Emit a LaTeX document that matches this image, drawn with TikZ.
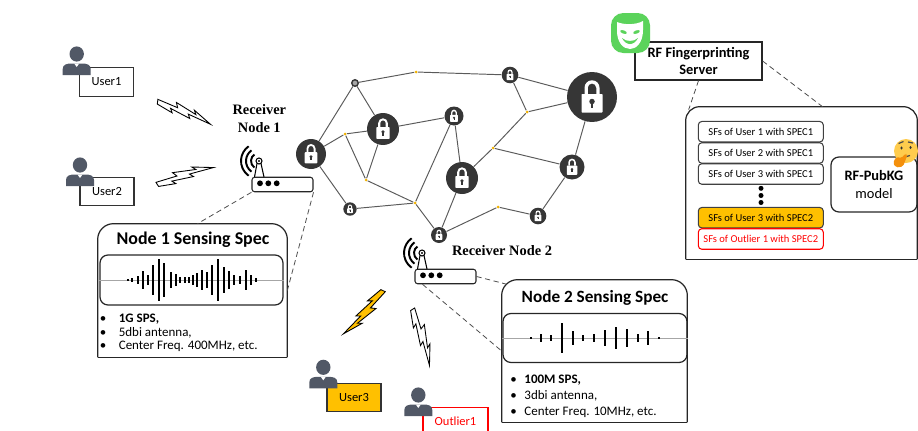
\documentclass[tikz,border=0pt]{standalone}
\usepackage{fontspec}
\setmainfont{Carlito}
\newfontfamily\serifbold{Liberation Serif}
\usetikzlibrary{calc}

\definecolor{lockgray}{HTML}{363636}
\definecolor{linkgray}{HTML}{5A5A5A}
\definecolor{hubgold}{HTML}{F2B200}
\definecolor{personcol}{HTML}{515866}
\definecolor{amber}{HTML}{FFC000}
\definecolor{maskgreen}{HTML}{5BD35B}
\definecolor{faceyellow}{HTML}{FFCC4D}
\definecolor{handorange}{HTML}{F4900C}

% padlock node: name, position, radius (px)
\newcommand\lockat[3]{%
  \node[lock, minimum size=#3*0.04cm] (#1) at (#2) {};
  \begin{scope}[shift={(#1.center)}, scale=#3/10]
    \fill[white, rounded corners=0.4pt] (-4.2,-1.2) rectangle (4.2,6.2);
    \fill[white] (-3,-1.2) -- (-3,-3.7) arc[start angle=180, end angle=360, radius=3]
      -- (3,-1.2) -- (1.7,-1.2) -- (1.7,-3.7) arc[start angle=0, end angle=-180, radius=1.7]
      -- (-1.7,-1.2) -- cycle;
    \fill[lockgray] (0,1.8) circle[radius=1.1];
    \fill[lockgray] (-0.45,1.8) rectangle (0.45,4.2);
  \end{scope}
}

\tikzset{
  lock/.style={circle, fill=lockgray, inner sep=0pt},
  hub/.style={circle, fill=hubgold, inner sep=0pt, minimum size=0.06cm},
  ring/.style={circle, fill=gray!70, draw=lockgray, line width=0.8pt, inner sep=0pt, minimum size=0.13cm},
  link/.style={draw=linkgray, line width=0.55pt},
  userbox/.style={draw=black!80, fill=white, line width=0.6pt, minimum width=1.08cm,
    minimum height=0.57cm, inner sep=0pt, font=\fontsize{7.1}{8}\selectfont},
  router/.style={draw=black!85, fill=white, rounded corners=1.5pt, line width=0.6pt,
    minimum width=1.22cm, minimum height=0.29cm, inner sep=0pt},
  rxlabel/.style={font=\serifbold\bfseries\fontsize{8.2}{10.2}\selectfont, align=center, inner sep=0pt},
  specbox/.style={inner sep=0pt},
  wavebox/.style={draw=black!85, rounded corners=4.5pt, line width=0.7pt, inner sep=0pt},
  spectitle/.style={font=\bfseries\fontsize{9.8}{11}\selectfont, inner sep=0pt},
  specitem/.style={anchor=west, inner sep=0pt, font=\fontsize{7.4}{9}\selectfont},
  sfbox/.style={draw=black!75, fill=white, rounded corners=2pt, line width=0.6pt, minimum width=2.5cm,
    minimum height=0.41cm, inner sep=0pt, font=\fontsize{6}{7}\selectfont},
  spline/.style={densely dashed, draw=black!70, line width=0.45pt},
  bar/.style={line width=0.95pt},
  frame/.style={line width=0.7pt, draw=black!85},
  pics/person/.style={code={
    \fill[personcol] (0,0) ellipse[x radius=7.2, y radius=7.6];
    \fill[personcol] (-14,21) -- (-14,15) .. controls (-14,10.5) and (-10,9.5) .. (-5,9.5)
      -- (5,9.5) .. controls (10,9.5) and (14,10.5) .. (14,15) -- (14,21) -- cycle;
    \fill[white] (-2.5,9.5) -- (0,13) -- (2.5,9.5) -- cycle;
  }},
  pics/antenna/.style={code={
    \draw[line width=0.6pt] (-23.5,-23.5) circle[radius=3];
    \fill (-23.5,-23.5) circle[radius=1.1];
    \draw[line width=0.6pt] (-25.5,-21) -- (-28,-7.5) (-21.5,-21) -- (-18.5,-7.5);
    \foreach \r in {8,13,18}
      \draw[line width=1.1pt] (-23.5,-23.5) ++(125:\r) arc[start angle=125, end angle=235, radius=\r];
    \foreach \d in {-22.5,-14.2,-5.8}
      \fill (\d,-1.2) circle[radius=2.9];
  }},
  pics/bolt/.style={code={
    \filldraw[fill=#1, draw=black, line width=0.5pt, line join=miter]
      (0,-3) -- (23,-1) -- (20,-6) -- (44,0) -- (41,-4) -- (62,5) -- (36,2)
      -- (39,6) -- (16,2) -- (19,6) -- (1,2) -- cycle;
  }},
  pics/bolt/.default=white,
}

\begin{document}
\begin{tikzpicture}[x=0.02cm, y=-0.02cm]
\useasboundingbox (0,0) rectangle (918,430);

% users
\node[userbox] (u1) at (106.5,82) {User1};
\pic at (76.7,54) {person};
\node[userbox] (u2) at (107,191.5) {User2};
\pic at (80,165) {person};
\node[userbox, fill=amber] (u3) at (354,397.5) {User3};
\pic at (323.3,367.3) {person};
\node[userbox, draw=red, text=red, minimum width=1.3cm] (o1) at (455.5,421.5) {Outlier1};
\pic at (418.3,395) {person};

% signals
\pic[rotate=-18, scale=0.93] at (157,102) {bolt};
\pic[rotate=21.8, scale=0.95] at (157,185) {bolt};
\pic[rotate=-127.5, scale=0.95] at (383,290) {bolt=amber};
\pic[rotate=-68.2, scale=0.95] at (412,309) {bolt};

% receivers
\node[router] (rx1) at (282.5,184.5) {};
\pic at (rx1.center) {antenna};
\node[rxlabel] (rx1lbl) at (259.3,119) {Receiver\\Node 1};
\node[router] (rx2) at (445.5,276.5) {};
\pic at (rx2.center) {antenna};
\node[rxlabel] (rx2lbl) at (502,251) {Receiver Node 2};

% node 1 spec
\node[specbox, minimum width=3.78cm, minimum height=2.66cm] (spec1) at (192.5,290.5) {};
\draw[frame, rounded corners=9pt] (spec1.south west) -- (spec1.north west) -- (spec1.north east) -- (spec1.south east);
\draw[frame] (spec1.south west) -- (spec1.south east);
\node[spectitle, font=\bfseries\fontsize{10.2}{11}\selectfont] (spec1ttl) at (193,240) {Node 1 Sensing Spec};
\node[wavebox, minimum width=3.66cm, minimum height=1cm] (wave1) at (191.5,280) {};
\draw[black!35, line width=0.4pt] (wave1.west) -- (wave1.east);
\foreach \x/\h in {128.3/1, 132.3/2, 138.3/4, 143.3/9, 148.3/5, 153.3/15, 159.3/21, 164/17,
    170.7/8, 175.7/6, 180/3, 185/3, 189.3/3, 193.3/5, 197.3/7, 201.7/10, 206.7/8, 212.3/15,
    218.3/21, 224/13, 229.3/9, 234.3/5, 240/4, 245.7/10, 250.7/5, 255.7/2}
  \draw[bar] (\x,280-\h) -- (\x,280+\h);
\node[specitem] (s1a) at (99.5,319) {\makebox[10.8pt][l]{\textbullet}\textbf{1G SPS,}};
\node[specitem] (s1b) at (99.5,332.5) {\makebox[10.8pt][l]{\textbullet}5dbi antenna,};
\node[specitem] (s1c) at (99.5,346) {\makebox[10.8pt][l]{\textbullet}Center Freq. 400MHz, etc.};

% node 2 spec
\node[specbox, minimum width=3.7cm, minimum height=2.84cm] (spec2) at (594.5,351) {};
\draw[frame, rounded corners=9pt] (spec2.south west) -- (spec2.north west) -- (spec2.north east) -- (spec2.south east);
\draw[frame] (spec2.south west) -- (spec2.south east);
\node[spectitle] (spec2ttl) at (595,298) {Node 2 Sensing Spec};
\node[wavebox, minimum width=3.68cm, minimum height=0.98cm] (wave2) at (595,338) {};
\draw[black!35, line width=0.4pt] (wave2.west) -- (wave2.east);
\foreach \x/\h in {531.3/1, 541.3/4, 551.3/3, 562/15, 573/7, 583/3, 593.7/4, 604.7/8,
    616.3/11, 627/9, 638/4, 648/7, 658.7/1}
  \draw[bar] (\x,338-\h) -- (\x,338+\h);
\node[specitem] (s2a) at (510,380) {\makebox[8pt][l]{\textbullet}\textbf{100M SPS,}};
\node[specitem] (s2b) at (510,396) {\makebox[8pt][l]{\textbullet}3dbi antenna,};
\node[specitem] (s2c) at (510,412) {\makebox[8pt][l]{\textbullet}Center Freq. 10MHz, etc.};

% network
\lockat{nA}{311,154}{15}
\node[ring] (nB) at (355,83) {};
\node[hub] (nC) at (416,72) {};
\lockat{nD}{510,75}{8.3}
\lockat{nE}{592,97}{25}
\lockat{nF}{383,129}{16}
\node[hub] (nG) at (345,134) {};
\lockat{nH}{454,116}{9.5}
\node[hub] (nI) at (527,112) {};
\node[hub] (nJ) at (493,148) {};
\lockat{nK}{462,178}{16}
\lockat{nL}{572,167}{12.5}
\node[hub] (nM) at (366,180) {};
\lockat{nN}{350,209}{6.7}
\node[hub] (nO) at (415,203) {};
\lockat{nP}{439,235}{8}
\node[hub] (nQ) at (498,207) {};
\lockat{nR}{538,216}{8.3}
\foreach \a/\b in {nB/nC, nC/nD, nB/nA, nB/nF, nA/nG, nG/nF, nA/nN, nG/nM, nF/nM, nF/nH,
    nM/nO, nN/nO, nO/nH, nH/nK, nO/nP, nP/nK, nK/nJ, nJ/nI, nI/nD, nD/nE, nI/nE, nJ/nL,
    nE/nL, nL/nR, nR/nQ, nQ/nP}
  \draw[link] (\a) -- (\b);

% fingerprinting server
\node[frame, draw, minimum width=2.54cm, minimum height=0.76cm, align=center, inner sep=0pt,
  font=\bfseries\fontsize{8.2}{10.2}\selectfont] (server) at (698.5,61) {RF Fingerprinting\\Server};
\fill[maskgreen, rounded corners=7pt] (611,13) rectangle (650,53);
\fill[white] (617,22) .. controls (624,25) and (636,25) .. (643,21) -- (643,30)
  .. controls (643,43) and (636,49) .. (630,49) .. controls (623,49) and (617,42) .. (617,31) -- cycle;
\fill[maskgreen, rotate around={-20:(623.5,32)}] (623.5,32) ellipse[x radius=3.5, y radius=1.6];
\fill[maskgreen, rotate around={20:(636.5,32)}] (636.5,32) ellipse[x radius=3.5, y radius=1.6];
\fill[maskgreen] (622,38) .. controls (626,42) and (634,42) .. (638,38)
  .. controls (634,46) and (626,46) .. (622,38) -- cycle;

% fingerprint store
\node[specbox, minimum width=4.62cm, minimum height=3.04cm] (panel) at (801.5,183) {};
\draw[frame, rounded corners=8pt] (panel.south west) -- (panel.north west) -- (panel.north east) -- (panel.south east);
\draw[frame] (panel.south west) -- (panel.south east);
\node[sfbox] (sf1) at (760.8,131.7) {SFs of User 1 with SPEC1};
\node[sfbox] (sf2) at (760.8,153) {SFs of User 2 with SPEC1};
\node[sfbox] (sf3) at (760.8,174) {SFs of User 3 with SPEC1};
\foreach \y in {188.3,195.5,202.5}
  \fill (761,\y) circle[radius=2.5];
\node[sfbox, fill=amber] (sf4) at (760.8,217.7) {SFs of User 3 with SPEC2};
\node[sfbox, draw=red, text=red] (sf5) at (760.8,239) {SFs of Outlier 1 with SPEC2};
\node[frame, draw, rounded corners=4.5pt, minimum width=1.72cm, minimum height=1.1cm, align=center,
  inner sep=0pt, font=\fontsize{8.2}{9.8}\selectfont] (kg) at (874,184.5) {{\bfseries RF-PubKG}\\model};

% thinking face
\fill[faceyellow] (906,151) circle[radius=12];
\fill[black!80] (901.5,148) ellipse[x radius=1.2, y radius=1.6];
\fill[black!80] (910.5,147.5) ellipse[x radius=1.2, y radius=1.6];
\draw[black!70, line width=0.7pt] (898.5,143.5) -- (903.5,141.5) (908,142) -- (913,143);
\draw[black!70, line width=0.7pt] (903,157.5) -- (910,155.5);
\fill[handorange, rounded corners=1pt] (893,163) -- (896,157) -- (902,158) -- (905,153.5)
  -- (907.5,154.5) -- (905.5,160) -- (903,166.5) -- (896,167.5) -- cycle;

% dashed call-outs
\draw[spline] (rx1.south west) -- ($(spec1.north)+(5,0)$);
\draw[spline] (rx1.south east) -- (spec1.east);
\draw[spline] (rx2.east) -- ($(spec2.north west)+(4.4,4.4)$);
\draw[spline] ($(rx2.south west)+(8,0)$) -- (spec2.west);
\draw[spline] (server.south) -- ($(panel.north west)+(3,3)$);
\draw[spline] (server.east) -- ($(panel.north)+(21,0)$);
\end{tikzpicture}
\end{document}
